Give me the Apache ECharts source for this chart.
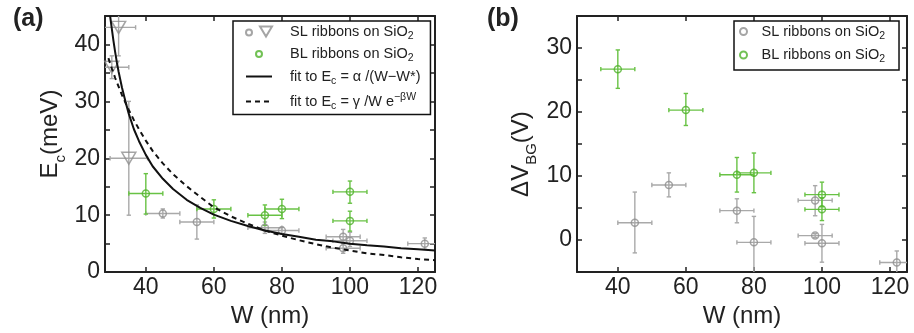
<!DOCTYPE html>
<html>
<head>
<meta charset="utf-8">
<script src="https://cdn.jsdelivr.net/npm/echarts@6/dist/echarts.min.js"></script>
<style>
  html, body { margin: 0; padding: 0; background: #fff; }
  #chart { width: 914px; height: 333px; }
</style>
</head>
<body>
<div id="chart"></div>
<script>
// rows: [W, value, W low, W high, value low, value high]
// (a) Ec (meV)
var slCircA = [
  [45, 10.3, 40, 50, 9.5, 11.1],
  [55, 8.8, 50, 60, 5.8, 11.8],
  [75, 7.8, 70, 80, 6.8, 8.8],
  [80, 7.3, 75, 85, 6.7, 7.9],
  [98, 6.2, 93, 103, 5.0, 7.5],
  [100, 5.5, 95, 105, 4.5, 7.0],
  [98, 4.2, 93, 103, 3.3, 5.2],
  [122, 5.0, 117, 127, 4.0, 6.0]
];
var slTriA = [
  [32, 43, 27, 37, 38, 48],
  [30, 36, 25, 35, 34, 38],
  [35, 20, 29.5, 40.5, 10, 30]
];
var blA = [
  [40, 13.8, 35, 45, 10.2, 17.3],
  [60, 11.1, 55, 65, 9.5, 12.7],
  [75, 10.0, 70, 80, 8.2, 11.8],
  [80, 11.1, 75, 85, 9.4, 12.8],
  [100, 14.1, 95, 105, 12.1, 16.0],
  [100, 9.0, 95, 105, 7.2, 10.7]
];
// fit curves
var fitSolidW = [29.5, 30, 30.5, 31, 31.5, 32, 33, 34, 35, 36.5, 38, 40, 42, 45, 48, 52, 56, 60, 65, 70, 75, 80, 85, 90, 95, 100, 105, 110, 115, 120, 125];
var fitSolidE = [45, 42.8, 40.6, 38.6, 36.8, 35.2, 32.4, 30.0, 27.8, 25.1, 23.0, 20.6, 18.6, 16.4, 14.6, 12.7, 11.3, 10.1, 9.0, 8.1, 7.3, 6.7, 6.2, 5.7, 5.4, 5.0, 4.7, 4.5, 4.2, 4.0, 3.8];
var fitDashW = [29, 30, 31, 32, 33, 34, 35, 36.5, 38, 40, 42, 45, 48, 52, 56, 60, 65, 70, 75, 80, 85, 90, 95, 100, 105, 110, 115, 120, 125];
var fitDashE = [37.6, 35.8, 34.1, 32.6, 31.1, 29.8, 28.5, 26.7, 25.1, 23.1, 21.3, 19.1, 17.2, 15.1, 13.2, 11.4, 9.8, 8.5, 7.3, 6.4, 5.6, 4.9, 4.3, 3.8, 3.3, 3.0, 2.6, 2.3, 2.1];

// (b) delta V_BG (V)
var slB = [
  [45, 2.7, 40, 50, -2.0, 7.5],
  [55, 8.6, 50, 60, 6.75, 10.5],
  [75, 4.6, 70, 80, 2.7, 6.45],
  [80, -0.35, 75, 85, -5.5, 3.7],
  [98, 6.2, 93, 103, 3.8, 8.5],
  [98, 0.7, 93, 103, 0.4, 1.0],
  [100, -0.5, 95, 105, -3.45, 2.45],
  [122, -3.5, 117, 127, -6, -1.7]
];
var blB = [
  [40, 26.7, 35, 45, 23.7, 29.7],
  [60, 20.3, 55, 65, 17.9, 22.9],
  [75, 10.2, 70, 80, 7.5, 12.9],
  [80, 10.5, 75, 85, 7.4, 13.6],
  [100, 7.1, 95, 105, 5.2, 9.05],
  [100, 4.8, 95, 105, 3.05, 6.6]
];

var xTicks = [40, 60, 80, 100, 120];

var FONT = 'Liberation Sans, Arial, Helvetica, sans-serif';
var AX = '#222';
var GREY = '#8f8f8f', GREY_BAR = '#a9a9a9';
var GREEN = '#4fb22a', GREEN_BAR = '#68c244';

var chart = echarts.init(document.getElementById('chart'));

function pairs(xs, ys) {
  return xs.map(function (x, i) { return [x, ys[i]]; });
}

// error bars through the library's coordinate system
function errBars(rows, color, idx) {
  return {
    type: 'custom',
    xAxisIndex: idx * 2,
    yAxisIndex: idx * 2,
    clip: true,
    silent: true,
    z: 1,
    data: rows,
    encode: { x: [0, 2, 3], y: [1, 4, 5] },
    renderItem: function (params, api) {
      var l = api.coord([api.value(2), api.value(1)]);
      var r = api.coord([api.value(3), api.value(1)]);
      var b = api.coord([api.value(0), api.value(4)]);
      var t = api.coord([api.value(0), api.value(5)]);
      var c = 2.2;
      var st = { stroke: color, lineWidth: 1.4 };
      function ln(x1, y1, x2, y2) {
        return { type: 'line', shape: { x1: x1, y1: y1, x2: x2, y2: y2 }, style: st };
      }
      return {
        type: 'group',
        children: [
          ln(l[0], l[1], r[0], r[1]),
          ln(b[0], b[1], t[0], t[1]),
          ln(l[0], l[1] - c, l[0], l[1] + c),
          ln(r[0], r[1] - c, r[0], r[1] + c),
          ln(b[0] - c, b[1], b[0] + c, b[1]),
          ln(t[0] - c, t[1], t[0] + c, t[1])
        ]
      };
    }
  };
}

function marks(name, rows, color, idx, symbol, size, rotate) {
  return {
    name: name,
    type: 'scatter',
    xAxisIndex: idx * 2,
    yAxisIndex: idx * 2,
    symbol: symbol,
    symbolSize: size,
    symbolRotate: rotate || 0,
    z: 3,
    data: rows.map(function (r) { return [r[0], r[1]]; }),
    itemStyle: { color: 'rgba(0,0,0,0)', borderColor: color, borderWidth: 1.5 }
  };
}

function xAx(grid, pos) {
  var main = pos === 'bottom';
  return {
    type: 'value', gridIndex: grid, position: pos, min: 28, max: 125,
    name: main ? 'W (nm)' : '', nameLocation: 'middle', nameGap: 24,
    nameTextStyle: { fontSize: 24, color: AX, fontFamily: FONT },
    axisLine: { show: true, onZero: false, lineStyle: { color: AX, width: 2 } },
    axisTick: { show: true, inside: true, length: 5, customValues: xTicks, lineStyle: { color: AX, width: 1.5 } },
    axisLabel: { show: main, customValues: xTicks, fontSize: 23, color: AX, fontFamily: FONT, margin: 4 },
    splitLine: { show: false }
  };
}

function yAx(grid, pos, min, max, name, gap, pad) {
  var main = pos === 'left';
  return {
    type: 'value', gridIndex: grid, position: pos, min: min, max: max, interval: 5,
    name: main ? name : '', nameLocation: 'middle', nameGap: gap,
    nameTextStyle: {
      fontSize: 24, color: AX, fontFamily: FONT, padding: pad,
      rich: {
        b: { fontSize: 24, fontFamily: FONT, color: AX, verticalAlign: 'top', lineHeight: 30 },
        s: { fontSize: 15, fontFamily: FONT, color: AX, verticalAlign: 'bottom', lineHeight: 15 }
      }
    },
    axisLine: { show: true, onZero: false, lineStyle: { color: AX, width: 2 } },
    axisTick: { show: true, inside: true, length: 5, lineStyle: { color: AX, width: 1.5 } },
    axisLabel: {
      show: main, fontSize: 23, color: AX, fontFamily: FONT, margin: 5,
      formatter: function (v) { return v % 10 === 0 ? String(v) : ''; }
    },
    splitLine: { show: false }
  };
}

var legendNames = {
  'SL_a': '{sp|}{t|SL ribbons on SiO}{s|2}',
  'BL_a': '{sp|}{t|BL ribbons on SiO}{s|2}',
  'fit1': '{sp|}{t|fit to E}{s|c}{t| = α /(W−W*)}',
  'fit2': '{sp|}{t|fit to E}{s|c}{t| = γ /W e}{u|−βW}',
  'SL_b': '{sp2|}{t|SL ribbons on SiO}{s|2}',
  'BL_b': '{sp2|}{t|BL ribbons on SiO}{s|2}'
};
var legendRich = {
  sp: { width: 13 },
  sp2: { width: 8 },
  t: { fontSize: 14.5, fontFamily: FONT, color: AX, verticalAlign: 'middle', lineHeight: 20 },
  s: { fontSize: 10.5, fontFamily: FONT, color: AX, verticalAlign: 'bottom', lineHeight: 10 },
  u: { fontSize: 10.5, fontFamily: FONT, color: AX, verticalAlign: 'top', lineHeight: 10 }
};
function legendFmt(n) { return legendNames[n]; }

var option = {
  animation: false,
  backgroundColor: '#fff',
  title: [
    { text: '(a)', left: 8, top: 2, textStyle: { fontSize: 25, fontWeight: 'bold', color: AX, fontFamily: FONT } },
    { text: '(b)', left: 482, top: 2, textStyle: { fontSize: 25, fontWeight: 'bold', color: AX, fontFamily: FONT } }
  ],
  legend: [
    {
      left: 233, top: 21, orient: 'vertical', itemGap: 5,
      itemWidth: 26, itemHeight: 10, padding: [3, 10, 3, 12],
      borderColor: '#111', borderWidth: 1.5, selectedMode: false,
      data: [
        { name: 'SL_a', icon: 'path://M0,0M26,10M6,6a3,3 0 1,0 -6,0a3,3 0 1,0 6,0ZM14,0L26,0L20,10Z' },
        { name: 'BL_a', icon: 'path://M0,0M26,10M16,5a3,3 0 1,0 -6,0a3,3 0 1,0 6,0Z' },
        'fit1', 'fit2'
      ],
      formatter: legendFmt,
      textStyle: { rich: legendRich }
    },
    {
      left: 734, top: 21, orient: 'vertical', itemGap: 6,
      itemWidth: 10, itemHeight: 7, padding: [3, 14, 5, 5],
      borderColor: '#111', borderWidth: 1.5, selectedMode: false,
      data: ['SL_b', 'BL_b'],
      formatter: legendFmt,
      textStyle: { rich: legendRich }
    }
  ],
  grid: [
    { left: 105, top: 16, width: 330, height: 261 },
    { left: 577, top: 16, width: 330, height: 261 }
  ],
  xAxis: [xAx(0, 'bottom'), xAx(0, 'top'), xAx(1, 'bottom'), xAx(1, 'top')],
  yAxis: [
    yAx(0, 'left', 0, 45, '{b|E}{s|c}{b|(meV)}', 37, [0, 0, 0, 20]),
    yAx(0, 'right', 0, 45, ''),
    yAx(1, 'left', -5, 35, '{b|ΔV}{s|BG}{b|(V)}', 38, [0, 20, 0, 0]),
    yAx(1, 'right', -5, 35, '')
  ],
  series: [
    errBars(slCircA, GREY_BAR, 0),
    errBars(slTriA, GREY_BAR, 0),
    errBars(blA, GREEN_BAR, 0),
    {
      name: 'fit1', type: 'line', xAxisIndex: 0, yAxisIndex: 0, symbol: 'none',
      clip: true, z: 4,
      data: pairs(fitSolidW, fitSolidE),
      lineStyle: { color: '#111', width: 2 },
      itemStyle: { color: 'rgba(0,0,0,0)', borderWidth: 0 }
    },
    {
      name: 'fit2', type: 'line', xAxisIndex: 0, yAxisIndex: 0, symbol: 'none',
      clip: true, z: 4,
      data: pairs(fitDashW, fitDashE),
      lineStyle: { color: '#111', width: 2, type: [5, 4] },
      itemStyle: { color: 'rgba(0,0,0,0)', borderWidth: 0 }
    },
    marks('SL_a', slCircA, GREY, 0, 'circle', 7),
    marks('SL_a_tri', slTriA, GREY, 0, 'triangle', [14, 12], 180),
    marks('BL_a', blA, GREEN, 0, 'circle', 7),

    errBars(slB, GREY_BAR, 1),
    errBars(blB, GREEN_BAR, 1),
    marks('SL_b', slB, GREY, 1, 'circle', 7),
    marks('BL_b', blB, GREEN, 1, 'circle', 7)
  ]
};
chart.setOption(option);
</script>
</body>
</html>
